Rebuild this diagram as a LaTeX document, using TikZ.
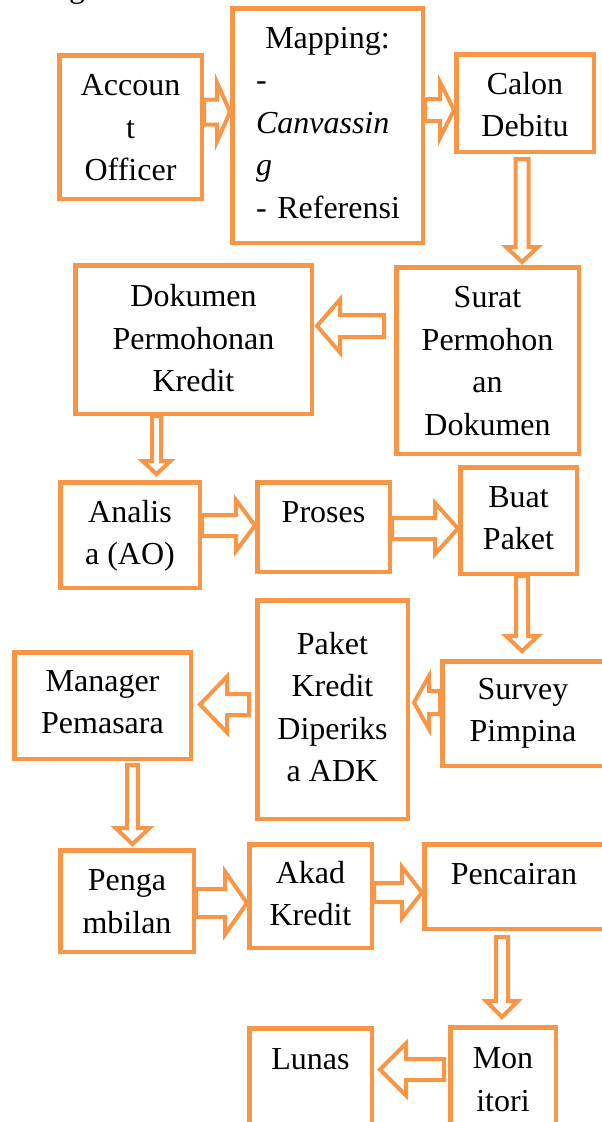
\documentclass[tikz,border=0pt]{standalone}
\usepackage{fontspec}
\setmainfont{Liberation Serif}
\usetikzlibrary{calc}
\definecolor{boxorange}{HTML}{F79646}

\tikzset{
  box/.style={draw=boxorange, line width=4.5pt, inner sep=0pt},
  boxtext/.style={font=\fontsize{32}{42.5}\selectfont, align=center, anchor=north, inner sep=0pt},
  arrowline/.style={draw=boxorange, fill=white, line width=4pt, line join=miter}
}

% #1 shaft half width, #2 head half width, #3 head length, #4 start, #5 tip
\newcommand{\blockarrow}[5]{%
  \path #4 coordinate (ba-s) #5 coordinate (ba-t);
  \path ($(ba-t)!#3!(ba-s)$) coordinate (ba-h);
  \draw[arrowline] ($(ba-s)!#1!90:(ba-t)$) -- ($(ba-h)!#1!90:(ba-t)$)
    -- ($(ba-h)!#2!90:(ba-t)$) -- (ba-t) -- ($(ba-h)!#2!-90:(ba-t)$)
    -- ($(ba-h)!#1!-90:(ba-t)$) -- ($(ba-s)!#1!-90:(ba-t)$) -- cycle;
}

\begin{document}
\begin{tikzpicture}[x=1pt, y=-1pt]
  \useasboundingbox (0,0) rectangle (602,1122);
  \node[font=\fontsize{32}{42.5}\selectfont, anchor=base, inner sep=0pt] (cap) at (77,-3) {g};
  % boxes
  \foreach \n/\x/\y/\w/\h in {acc/130.5/127/142.5/143.5, map/327.5/125.5/190.5/234.5,
      cal/525/103/137.5/97.5, dok/193.5/339.5/236.5/148.5, sur/487.5/360.5/182.5/186.5,
      ana/130/535/139.5/105.5, pro/323.5/527/132.5/89.5, bua/518.5/520.5/116.5/106.5,
      sv/523/713.5/161.5/104.5, pak/332.5/709.5/150.5/218.5, man/102.5/705.5/176.5/106.5,
      peng/127/901/133.5/101.5, akad/310.5/896/122.5/103.5, pcr/514/886.5/179.5/84.5,
      mon/503/1082.5/105.5/110.5, lun/310.5/1083/122.5/109.5} {
    \node[box, minimum width=\w pt, minimum height=\h pt] (\n) at (\x,\y) {};
  }
  % texts
  \node[boxtext] (acc-t) at ($(acc.north)+(0,13)$) {\strut Accoun\\t\\Officer};
  \node[boxtext, align=left, text width=143pt] (map-t) at ($(map.north)+(0,12.5)$)
    {\strut\makebox[\linewidth]{Mapping:}\\-\\\textit{Canvassin}\\\textit{g}\\\mbox{- Referensi}};
  \node[boxtext] (cal-t) at ($(cal.north)+(0,12.5)$) {\strut Calon\\Debitu};
  \node[boxtext] (dok-t) at ($(dok.north)+(0,14)$) {\strut Dokumen\\Permohonan\\Kredit};
  \node[boxtext] (sur-t) at ($(sur.north)+(0,13)$) {\strut Surat\\Permohon\\an\\Dokumen};
  \node[boxtext] (ana-t) at ($(ana.north)+(0,12.5)$) {\strut Analis\\a (AO)};
  \node[boxtext] (pro-t) at ($(pro.north)+(0,12.5)$) {\strut Proses};
  \node[boxtext] (bua-t) at ($(bua.north)+(0,12.5)$) {\strut Buat\\Paket};
  \node[boxtext] (sv-t) at ($(sv.north)+(0,10.5)$) {\strut Survey\\Pimpina};
  \node[boxtext] (pak-t) at ($(pak.north)+(0,26.5)$) {\strut Paket\\Kredit\\Diperiks\\a ADK};
  \node[boxtext] (man-t) at ($(man.north)+(0,11.5)$) {\strut Manager\\Pemasara};
  \node[boxtext] (peng-t) at ($(peng.north)+(0,13)$) {\strut Penga\\mbilan};
  \node[boxtext] (akad-t) at ($(akad.north)+(0,11.5)$) {\strut Akad\\Kredit};
  \node[boxtext] (pcr-t) at ($(pcr.north)+(0,13)$) {\strut Pencairan};
  \node[boxtext] (mon-t) at ($(mon.north)+(0,14)$) {\strut Mon\\itori};
  \node[boxtext] (lun-t) at ($(lun.north)+(0,14)$) {\strut Lunas};
  % arrows
  \blockarrow{12.5pt}{29.5pt}{13pt}{(acc.east |- 0,112)}{(map.west |- 0,112)}
  \blockarrow{11pt}{28pt}{14pt}{(map.east |- 0,110)}{(cal.west |- 0,110)}
  \blockarrow{6.5pt}{16pt}{15pt}{($(cal.south -| 522,0)+(0,5)$)}{($(sur.north -| 522,0)+(0,-3)$)}
  \blockarrow{11pt}{26.5pt}{23pt}{($(sur.west |- 0,326)+(-10,0)$)}{($(dok.east |- 0,326)+(3,0)$)}
  \blockarrow{4.5pt}{14pt}{13pt}{(dok.south -| 156.5,0)}{($(ana.north -| 156.5,0)+(0,-6)$)}
  \blockarrow{10.5pt}{25.5pt}{19pt}{(ana.east |- 0,525.5)}{(pro.west |- 0,525.5)}
  \blockarrow{10.5pt}{25.5pt}{23pt}{(pro.east |- 0,528.5)}{(bua.west |- 0,528.5)}
  \blockarrow{6pt}{16pt}{15pt}{(bua.south -| 522,0)}{($(sv.north -| 522,0)+(0,-8)$)}
  \blockarrow{11.5pt}{26.5pt}{15pt}{(sv.west |- 0,702.5)}{($(pak.east |- 0,702.5)+(4,0)$)}
  \blockarrow{10.5pt}{28pt}{27pt}{($(pak.west |- 0,704.5)+(-6,0)$)}{($(man.east |- 0,704.5)+(7,0)$)}
  \blockarrow{5.5pt}{17pt}{16pt}{($(man.south -| 132.5,0)+(0,4)$)}{($(peng.north -| 132.5,0)+(0,-4)$)}
  \blockarrow{14pt}{31.5pt}{22pt}{(peng.east |- 0,903)}{(akad.west |- 0,903)}
  \blockarrow{9.5pt}{25.5pt}{20pt}{(akad.east |- 0,892.5)}{(pcr.west |- 0,892.5)}
  \blockarrow{6pt}{16pt}{16pt}{($(pcr.south -| 502,0)+(0,6)$)}{($(mon.north -| 502,0)+(0,-8)$)}
  \blockarrow{10.5pt}{26pt}{26pt}{($(mon.west |- 0,1069.5)+(-4,0)$)}{($(lun.east |- 0,1069.5)+(6,0)$)}
\end{tikzpicture}
\end{document}
